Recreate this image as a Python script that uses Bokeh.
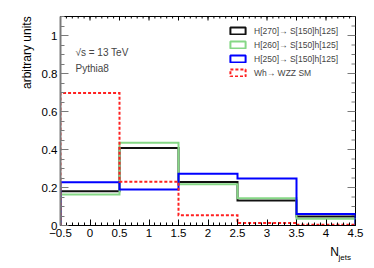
import math
from bokeh.plotting import figure
from bokeh.models import Range1d, FixedTicker, LinearAxis, Label, Legend, LegendItem
from bokeh.embed import file_html
from bokeh.resources import INLINE

# ---- data ----
bin_edges = [-0.5, 0.5, 1.5, 2.5, 3.5, 4.5]
h270 = [0.180, 0.408, 0.229, 0.132, 0.048]
h260 = [0.163, 0.435, 0.217, 0.143, 0.035]
h250 = [0.227, 0.189, 0.273, 0.248, 0.060]
wh_sm = [0.697, 0.230, 0.054, 0.013, 0.004]
series_names = ["H[270]\u2192 S[150]h[125]", "H[260]\u2192 S[150]h[125]",
                "H[250]\u2192 S[150]h[125]", "Wh\u2192 WZZ SM"]
x_ticks = [-0.5, 0, 0.5, 1, 1.5, 2, 2.5, 3, 3.5, 4, 4.5]
y_ticks = [0, 0.2, 0.4, 0.6, 0.8, 1.0]
x_lo, x_hi = -0.5, 4.5
y_lo, y_hi = 0.0, 1.1

FONT = "Liberation Sans"
NBSP = "\u00a0"

p = figure(width=374, height=268, output_backend="svg", toolbar_location=None,
           x_range=Range1d(x_lo, x_hi), y_range=Range1d(y_lo, y_hi),
           min_border_left=60, min_border_right=19, min_border_top=16, min_border_bottom=43,
           x_axis_location=None, y_axis_location=None)
p.xgrid.visible = False
p.ygrid.visible = False
p.outline_line_color = "black"
p.outline_line_width = 1
p.background_fill_color = "white"
p.border_fill_color = "white"

x_minor = [round(x_lo + 0.1 * i, 2) for i in range(51)]
y_minor = [round(0.05 * i, 2) for i in range(23)]

xax = LinearAxis(ticker=FixedTicker(ticks=x_ticks, minor_ticks=x_minor))
xax.major_tick_in = 6
xax.major_tick_out = 0
xax.minor_tick_in = 3
xax.minor_tick_out = 0
xax.axis_line_color = "black"
xax.major_tick_line_color = "black"
xax.minor_tick_line_color = "black"
xax.major_label_text_font = FONT
xax.major_label_text_font_size = "11.5px"
xax.major_label_text_color = "black"
xax.major_label_standoff = 3
xax.major_label_overrides = {-0.5: "\u22120.5"}
# ROOT puts axis titles at the axis end; leading padding moves the centred title there
xax.axis_label = NBSP * 76 + "N"
xax.axis_label_standoff = 5
xax.axis_label_text_font = FONT
xax.axis_label_text_font_size = "12px"
xax.axis_label_text_font_style = "normal"
xax.axis_label_text_color = "black"
p.add_layout(xax, "below")

# second (tick-less) axis carrying the subscript of N_jets
sub_ax = LinearAxis(ticker=FixedTicker(ticks=[], minor_ticks=[]))
sub_ax.axis_line_color = None
sub_ax.major_tick_line_color = None
sub_ax.minor_tick_line_color = None
sub_ax.major_tick_in = 0
sub_ax.major_tick_out = 0
sub_ax.minor_tick_in = 0
sub_ax.minor_tick_out = 0
sub_ax.major_label_standoff = 0
sub_ax.axis_label = NBSP * 123 + "jets"
sub_ax.axis_label_standoff = -9
sub_ax.axis_label_text_font = FONT
sub_ax.axis_label_text_font_size = "8px"
sub_ax.axis_label_text_font_style = "normal"
sub_ax.axis_label_text_color = "black"
p.add_layout(sub_ax, "below")

yax = LinearAxis(ticker=FixedTicker(ticks=y_ticks, minor_ticks=y_minor))
yax.major_tick_in = 8
yax.major_tick_out = 0
yax.minor_tick_in = 4
yax.minor_tick_out = 0
yax.axis_line_color = "#7a7a7a"
yax.axis_line_width = 2
yax.major_tick_line_color = "#7a7a7a"
yax.minor_tick_line_color = "#7a7a7a"
yax.major_label_text_font = FONT
yax.major_label_text_font_size = "11.5px"
yax.major_label_text_color = "black"
yax.major_label_standoff = 3
yax.major_label_overrides = {0: "0", 1.0: "1"}
yax.axis_label = NBSP * 41 + "arbitrary units"
yax.axis_label_standoff = 5
yax.axis_label_text_font = FONT
yax.axis_label_text_font_size = "12px"
yax.axis_label_text_font_style = "normal"
yax.axis_label_text_color = "black"
p.add_layout(yax, "left")

# mirrored ticks on top and right edges (ROOT style)
p.ray(x=x_ticks, y=[y_hi] * len(x_ticks), length=4, length_units="screen",
      angle=-math.pi / 2, line_color="black", line_width=1)
p.ray(x=x_minor, y=[y_hi] * len(x_minor), length=2, length_units="screen",
      angle=-math.pi / 2, line_color="black", line_width=1)
p.ray(x=[x_hi] * len(y_ticks), y=y_ticks, length=8, length_units="screen",
      angle=math.pi, line_color="#7a7a7a", line_width=1)
p.ray(x=[x_hi] * len(y_minor), y=y_minor, length=4, length_units="screen",
      angle=math.pi, line_color="#7a7a7a", line_width=1)

def step_xy(edges, vals):
    xs = [edges[0]]
    ys = [0.0]
    for i, v in enumerate(vals):
        xs += [edges[i], edges[i + 1]]
        ys += [v, v]
    xs.append(edges[-1])
    ys.append(0.0)
    return xs, ys

styles = [
    dict(color="#111111", dash="solid"),
    dict(color="#86d886", dash="solid"),
    dict(color="#0000ff", dash="solid"),
    dict(color="#ff2020", dash="3 2"),
]
all_series = [h270, h260, h250, wh_sm]

nan = float("nan")
legend_items = []
for vals, st, name in zip(all_series, styles, series_names):
    xs, ys = step_xy(bin_edges, vals)
    p.line(xs, ys, line_color=st["color"], line_width=2, line_dash=st["dash"],
           line_join="miter")
    # legend-only box glyph (NaN data: nothing is drawn in the frame)
    box = p.quad(left=[nan], right=[nan], top=[nan], bottom=[nan], fill_color="white",
                 fill_alpha=0, line_color=st["color"], line_width=2, line_dash=st["dash"])
    legend_items.append(LegendItem(label=name, renderers=[box]))

legend = Legend(items=legend_items, location=(168, 147), padding=0, margin=0,
                glyph_width=19, glyph_height=9, label_height=11, spacing=3,
                label_standoff=7, label_text_font=FONT, label_text_font_size="8.5px",
                label_text_baseline="middle", border_line_color=None,
                background_fill_alpha=0)
p.add_layout(legend)

p.add_layout(Label(x=-0.246, y=0.913, text="\u221as = 13 TeV", text_font=FONT,
                   text_font_size="10px", text_baseline="middle"))
p.add_layout(Label(x=-0.246, y=0.826, text="Pythia8", text_font=FONT,
                   text_font_size="10px", text_baseline="middle"))

open("out.html", "w").write(file_html(p, INLINE))
